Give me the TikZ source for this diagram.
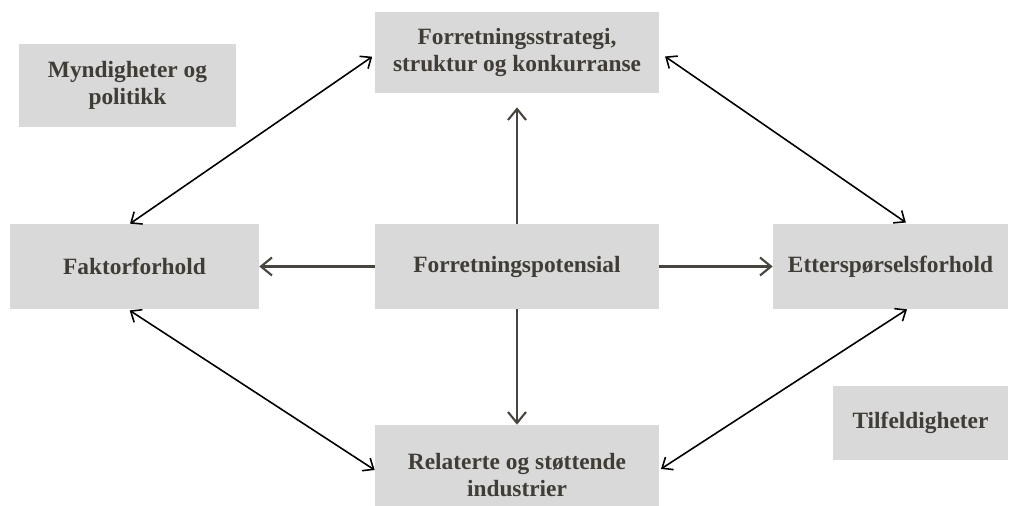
\documentclass[tikz,border=0pt]{standalone}
\usepackage{fontspec}
\setmainfont{Liberation Serif}
\usetikzlibrary{arrows.meta, positioning}
\definecolor{boxgray}{RGB}{217,217,217}
\definecolor{inkdark}{RGB}{64,60,54}
\definecolor{flowgray}{RGB}{72,68,62}

\begin{document}
\begin{tikzpicture}[x=0.02cm, y=-0.02cm,
  factorbox/.style={fill=boxgray, rectangle, align=center, inner sep=4pt,
    text=inkdark, font=\fontsize{13.3}{15.2}\selectfont\bfseries},
  flowarrow/.style={-{Straight Barb[length=2.2mm, width=3.6mm]}, line width=1.2pt, flowgray},
  linkarrow/.style={{Straight Barb[length=1.8mm, width=3mm]}-{Straight Barb[length=1.8mm, width=3mm]},
    line width=0.9pt, black}
]
\useasboundingbox (0,0) rectangle (1022,506);
\clip (0,0) rectangle (1022,506);

\node[factorbox, minimum width=5.68cm, minimum height=1.62cm] (strategy) at (517,52.5)
  {Forretningsstrategi,\\ struktur og konkurranse};
\node[factorbox, minimum width=4.34cm, minimum height=1.66cm] (government) at (127.5,85.5)
  {Myndigheter og\\ politikk};
\node[factorbox, minimum width=4.98cm, minimum height=1.70cm] (factor) at (134.5,266.5)
  {Faktorforhold};
\node[factorbox, minimum width=5.68cm, minimum height=1.70cm] (potential) at (517,266.5)
  {Forretningspotensial};
\node[factorbox, minimum width=4.70cm, minimum height=1.70cm] (demand) at (890.5,266.5)
  {Etterspørselsforhold};
\node[factorbox, minimum width=3.50cm, minimum height=1.48cm] (chance) at (920.5,423)
  {Tilfeldigheter};
\node[factorbox, minimum width=5.68cm, minimum height=2.00cm] (related) at (517,475)
  {Relaterte og støttende\\ industrier};

% from the centre outwards
\draw[flowarrow, shorten >=0.28cm] (potential.north) -- (strategy.south);
\draw[flowarrow] (potential.west) -- (factor.east);
\draw[flowarrow] (potential.east) -- (demand.west);
\draw[flowarrow] (potential.south) -- (related.north);

% links round the diamond
\draw[linkarrow, shorten >=0.06cm] ([xshift=-0.09cm]factor.north) -- ([yshift=-0.05cm]strategy.west);
\draw[linkarrow, shorten <=0.14cm, shorten >=0.04cm] (strategy.east) -- ([xshift=0.34cm]demand.north);
\draw[linkarrow, shorten >=0.04cm] ([xshift=0.33cm]demand.south) -- ([yshift=0.1cm]related.east);
\draw[linkarrow, shorten <=0.04cm] ([xshift=-0.13cm]factor.south) -- ([yshift=0.1cm]related.west);
\end{tikzpicture}
\end{document}
